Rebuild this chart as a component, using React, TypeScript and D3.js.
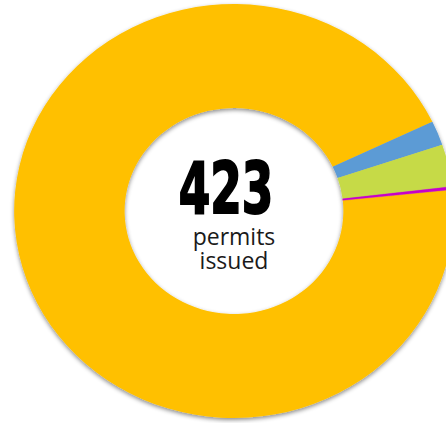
import React from "react";
import * as d3 from "d3";

const categories = ["Category A", "Category B", "Category C", "Category D"];
const values = [400, 8, 14, 1];
const colors = ["#FFC000", "#5B9BD5", "#C6DA46", "#C800C8"];
const centerLabel = ["permits", "issued"];

const W = 446;
const H = 423;
const CX = 234;
const CY = 211;
const R_OUT = 207;
const R_IN = 103;
const SX = 1.062;
const START_DEG = 84.07;

export default function App() {
  const total = d3.sum(values);
  const start = (START_DEG * Math.PI) / 180;
  const pie = d3
    .pie<number>()
    .sort(null)
    .value((d) => d)
    .startAngle(start)
    .endAngle(start + Math.PI * 2);
  const arcs = pie(values);
  const arc = d3.arc<d3.PieArcDatum<number>>().innerRadius(R_IN).outerRadius(R_OUT);

  return (
    <svg
      width={W}
      height={H}
      style={{ position: "fixed", left: 0, top: 0, background: "#fff" }}
    >
      <defs>
        <filter id="sh" x="-10%" y="-10%" width="120%" height="120%">
          <feDropShadow dx="0" dy="2" stdDeviation="2" floodColor="#000" floodOpacity="0.45" />
        </filter>
      </defs>
      <g filter="url(#sh)">
        <g transform={`translate(${CX},${CY}) scale(${SX},1)`}>
          {arcs.map((a, i) => (
            <path
              key={categories[i]}
              d={arc(a) || ""}
              fill={colors[i]}
              stroke={i === 3 ? colors[i] : "none"}
              strokeWidth={i === 3 ? 0.3 : 0}
            />
          ))}
        </g>
      </g>
      <g transform="translate(226,213) scale(0.71,1)">
        <text
          x={0}
          y={0}
          textAnchor="middle"
          fontFamily="'DejaVu Sans Condensed', 'DejaVu Sans', sans-serif"
          fontWeight="bold"
          fontSize={71}
          fill="#000"
          stroke="#000"
          strokeWidth={2}
        >
          {total}
        </text>
      </g>
      <text
        x={234}
        y={245}
        textAnchor="middle"
        fontFamily="'Open Sans', sans-serif"
        fontSize={23}
        fill="#1a1a1a"
      >
        {centerLabel[0]}
      </text>
      <text
        x={234}
        y={269}
        textAnchor="middle"
        fontFamily="'Open Sans', sans-serif"
        fontSize={23}
        fill="#1a1a1a"
      >
        {centerLabel[1]}
      </text>
    </svg>
  );
}
